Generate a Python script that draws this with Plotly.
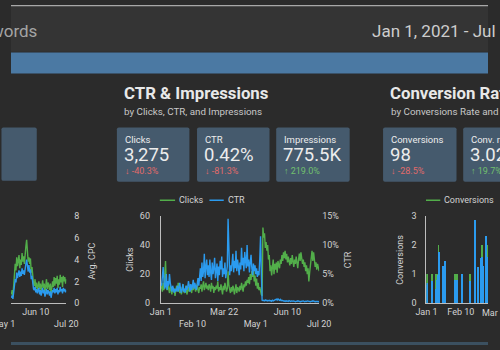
import plotly.graph_objects as go
import pandas as pd

W, H = 500, 350

# ---------------- data ----------------
days = pd.date_range("2021-01-01", "2021-07-20", freq="D")
clicks = [
    10, 12, 8, 14, 9, 18, 29, 12, 9, 13,
    10, 7, 12, 9, 6, 11, 8, 10, 5, 9,
    12, 8, 14, 10, 7, 11, 6, 9, 13, 8,
    7, 10, 12, 6, 9, 11, 8, 13, 10, 7,
    12, 9, 14, 11, 8, 10, 13, 9, 7, 11,
    10, 13, 8, 12, 15, 9, 11, 14, 10, 12,
    9, 13, 11, 8, 14, 10, 12, 7, 11, 9,
    12, 10, 15, 8, 11, 9, 13, 10, 6, 12,
    9, 14, 11, 8, 10, 22, 12, 9, 7, 11,
    8, 12, 10, 6, 9, 13, 7, 11, 10, 8,
    12, 9, 14, 10, 8, 13, 11, 15, 12, 16,
    14, 18, 13, 20, 16, 22, 18, 25, 15, 19,
    12, 17, 10, 14, 9, 11, 8, 6,
    5, 52, 45, 48, 38, 42, 36, 40, 30, 33,
    22, 26, 19, 24, 30, 20, 27, 23, 28, 21,
    29, 26, 24, 30, 27, 33, 29, 35, 31, 36,
    30, 34, 28, 32, 29, 26, 31, 27, 33, 29,
    25, 30, 27, 32, 28, 24, 30, 34, 29, 35,
    31, 27, 30, 25, 28, 22, 26, 20, 24, 15,
    21, 27, 33, 36, 29, 35, 30, 25, 28, 23,
    27, 25, 22,
]
ctr_pct = [
    3.5, 3.0, 4.5, 6.2, 4.0, 2.5, 3.0, 5.0, 2.3, 3.8,
    3.0, 5.0, 3.5, 2.5, 2.0, 3.0, 2.3, 1.8, 2.5, 2.0,
    2.3, 3.0, 2.0, 2.8, 3.5, 2.3, 1.8, 2.5, 3.3, 2.0,
    2.5, 1.8, 3.0, 2.3, 2.8, 3.8, 2.5, 2.0, 3.3, 2.3,
    3.0, 4.0, 2.5, 3.5, 2.8, 2.3, 3.3, 4.3, 3.0, 5.0,
    6.0, 3.8, 7.0, 4.5, 5.5, 8.5, 4.3, 6.3, 7.5, 4.8,
    6.5, 4.5, 7.5, 5.3, 4.0, 7.0, 5.0, 6.0, 7.8, 4.3,
    5.5, 6.8, 3.8, 6.3, 4.8, 7.3, 5.8, 8.0, 4.5, 6.0,
    5.0, 7.0, 4.3, 5.5, 6.3, 14.5, 7.5, 4.8, 6.5, 5.5,
    6.8, 8.5, 5.3, 7.3, 6.0, 9.0, 5.5, 7.5, 6.3, 4.8,
    7.0, 5.8, 9.5, 6.5, 7.8, 5.5, 8.8, 6.8, 6.0, 10.0,
    6.3, 7.5, 5.3, 7.0, 8.3, 6.0, 4.8, 6.8, 5.5, 6.5,
    5.0, 6.0, 4.5, 5.5, 4.8, 7.5, 11.5, 5.3,
    0.5, 0.45, 0.5, 0.4, 0.55, 0.45, 0.5, 0.4, 0.45, 0.5,
    0.4, 0.45, 0.35, 0.5, 0.4, 0.45, 0.55, 0.6, 0.7, 0.55,
    0.75, 0.6, 0.5, 0.65, 0.45, 0.5, 0.4, 0.45, 0.35, 0.4,
    0.3, 0.4, 0.35, 0.3, 0.45, 0.35, 0.3, 0.4, 0.3, 0.35,
    0.4, 0.3, 0.25, 0.35, 0.3, 0.4, 0.3, 0.35, 0.25, 0.3,
    0.35, 0.3, 0.4, 0.3, 0.25, 0.35, 0.3, 0.4, 0.35, 0.3,
    0.3, 0.25, 0.35, 0.3, 0.4, 0.3, 0.35, 0.25, 0.3, 0.35,
    0.3, 0.25, 0.3,
]

cpc_days = pd.date_range("2021-05-09", "2021-07-20", freq="D")
cost_series = [
    0.8, 1.2, 0.6, 1.5, 2.8, 3.6, 3.0, 4.2, 3.4, 3.9,
    4.4, 3.2, 4.0, 3.5, 4.6, 3.8, 4.3, 3.6, 4.8, 5.2,
    5.8, 4.5, 3.8, 4.2, 3.6, 4.1, 2.8, 3.3, 2.2, 1.8,
    1.6, 2.2, 1.4, 1.9, 1.2, 1.7, 2.0, 1.3, 1.8, 1.1,
    1.6, 2.1, 1.4, 1.8, 1.0, 1.5, 2.2, 1.3, 1.9, 1.6,
    1.2, 1.8, 0.9, 1.4, 2.0, 1.5, 2.4, 1.6, 2.3, 1.8,
    2.5, 1.4, 2.2, 1.7, 2.6, 1.9, 2.4, 1.5, 2.5, 2.0,
    2.4, 1.8, 2.2,
]
avg_cpc = [
    0.5, 0.7, 0.4, 0.9, 1.6, 2.2, 1.9, 2.8, 2.3, 2.6,
    3.0, 2.4, 2.9, 2.5, 3.2, 2.7, 3.0, 2.6, 3.3, 3.6,
    4.0, 3.4, 2.9, 3.5, 2.8, 3.1, 2.2, 2.5, 1.6, 1.3,
    1.2, 1.5, 1.0, 1.3, 0.9, 1.2, 1.4, 0.8, 1.2, 0.7,
    1.1, 1.4, 0.9, 1.2, 0.6, 1.0, 1.3, 0.8, 1.2, 1.0,
    0.7, 1.1, 0.5, 0.9, 1.2, 1.0, 1.4, 0.9, 1.3, 1.0,
    1.4, 0.8, 1.2, 1.0, 1.5, 1.1, 1.3, 0.9, 1.4, 1.1,
    1.3, 1.0, 1.2,
]

conv_days = pd.date_range("2021-01-01", "2021-03-13", freq="D")
conversions = [
    1, 1, 0, 0, 0, 0, 1, 0, 0, 0,
    0, 1, 1, 1, 2, 1, 0, 0, 0, 1,
    0, 0, 1, 0, 0, 0, 0, 0, 0, 0,
    0, 0, 0, 1, 0, 0, 1, 0, 0, 0,
    0, 1, 0, 0, 0, 0, 0, 0, 0, 0,
    0, 1, 0, 0, 0, 0, 0, 1, 0, 0,
    1, 0, 0, 0, 1, 2, 1, 0, 0, 1,
    1, 2,
]
conv_rate = [
    3.2, 3.5, 0, 0, 0, 0, 3.8, 0, 0, 0,
    0, 2.5, 4.0, 4.8, 7.5, 8.8, 0, 0, 0, 6.5,
    0, 0, 7.3, 0, 0, 0, 0, 0, 0, 0,
    0, 0, 0, 4.0, 0, 0, 4.0, 0, 0, 0,
    0, 5.0, 0, 0, 0, 0, 0, 0, 0, 0,
    0, 3.8, 0, 0, 0, 0, 0, 14.3, 0, 0,
    6.3, 0, 0, 0, 7.8, 8.0, 6.5, 0, 0, 11.5,
    9.0, 8.0,
]

kpi_labels = ["Clicks", "CTR", "Impressions", "Conversions", "Conv. rate"]
kpi_values = ["3,275", "0.42%", "775.5K", "98", "3.02%"]
kpi_deltas = ["-40.3%", "-81.3%", "219.0%", "-28.5%", "19.7%"]
kpi_up = [False, False, True, False, True]

tick_dates = ["2021-01-01", "2021-02-10", "2021-03-22", "2021-05-01", "2021-06-10", "2021-07-20"]
tick_text = ["Jan 1", "<br>Feb 10", "Mar 22", "<br>May 1", "Jun 10", "<br>Jul 20"]
ctr_ticks = [0, 5, 10, 15]
ctr_tick_text = ["0%", "5%", "10%", "15%"]

# ---------------- style ----------------
FONT = "Roboto"
GREEN = "#52ae4a"
BLUE = "#2b9bef"
CARD = "#455a6d"
TXT = "#d2d2d2"
AXLINE = "#bdbdbd"


def fx(x):
    return x / W


def fy(y):
    return 1 - y / H


def P(x, y):
    return f"{fx(x):.5f},{fy(y):.5f}"


def rrect(x0, y0, x1, y1, r, color):
    path = (f"M{P(x0 + r, y0)} L{P(x1 - r, y0)} Q{P(x1, y0)} {P(x1, y0 + r)} "
            f"L{P(x1, y1 - r)} Q{P(x1, y1)} {P(x1 - r, y1)} L{P(x0 + r, y1)} "
            f"Q{P(x0, y1)} {P(x0, y1 - r)} L{P(x0, y0 + r)} Q{P(x0, y0)} {P(x0 + r, y0)} Z")
    return dict(type="path", xref="paper", yref="paper", path=path,
                fillcolor=color, line=dict(width=0), layer="below")


def rect(x0, y0, x1, y1, color):
    return dict(type="rect", xref="paper", yref="paper", x0=fx(x0), x1=fx(x1),
                y0=fy(y1), y1=fy(y0), fillcolor=color, line=dict(width=0), layer="below")


def hline(x0, x1, y, color, w=1.5):
    return dict(type="line", xref="paper", yref="paper", x0=fx(x0), x1=fx(x1),
                y0=fy(y), y1=fy(y), line=dict(color=color, width=w))


def text(x, y, s, size, color, anchor="left", angle=0, weight="normal"):
    return dict(x=fx(x), y=fy(y), xref="paper", yref="paper", text=s, showarrow=False,
                xanchor=anchor, yanchor="middle", textangle=angle, borderpad=0,
                font=dict(family=FONT, size=size, color=color, weight=weight))


fig = go.Figure()

# middle chart
fig.add_trace(go.Scatter(x=days, y=clicks, name="Clicks", xaxis="x", yaxis="y",
                         mode="lines", line=dict(color=GREEN, width=1.4)))
fig.add_trace(go.Scatter(x=days, y=ctr_pct, name="CTR", xaxis="x", yaxis="y2",
                         mode="lines", line=dict(color=BLUE, width=1.4)))
# left (cropped) chart
fig.add_trace(go.Scatter(x=cpc_days, y=cost_series, name="Cost", xaxis="x2", yaxis="y3",
                         mode="lines", line=dict(color=GREEN, width=1.4)))
fig.add_trace(go.Scatter(x=cpc_days, y=avg_cpc, name="Avg. CPC", xaxis="x2", yaxis="y3",
                         mode="lines", line=dict(color=BLUE, width=1.4)))
# right (cropped) chart
DAY_MS = 86400000
fig.add_trace(go.Bar(x=conv_days, y=conversions, name="Conversions", xaxis="x3", yaxis="y4",
                     marker=dict(color=GREEN, line=dict(width=0)), offset=0, width=DAY_MS))
fig.add_trace(go.Bar(x=conv_days, y=conv_rate, name="Conv. rate", xaxis="x3", yaxis="y5",
                     marker=dict(color=BLUE, line=dict(width=0)), offset=0, width=DAY_MS))

tickfont = dict(family=FONT, size=9, color=TXT)
ydom = [fy(307), fy(217)]
common = dict(showgrid=False, zeroline=False, tickfont=tickfont, ticks="", fixedrange=True)

shapes = [
    rect(0, 0, 500, 48, "#343434"),
    rect(0, 0, 500, 1.2, "#a8a8a8"),
    rect(0, 49, 500, 70.5, "#4b79a3"),
    rect(0, 347, 500, 350, "#3b5060"),
    rrect(-10, 126, 27, 181, 2, CARD),
]
card_x = [(111, 187), (195, 271), (278, 355), (390, 467), (474, 552)]
annotations = []
for (x0, x1), lab, val, dl, up in zip(card_x, kpi_labels, kpi_values, kpi_deltas, kpi_up):
    shapes.append(rrect(x0, 126, x1, 182, 2, CARD))
    annotations.append(text(x0 + 7, 138, lab, 9.5, "#ececec"))
    annotations.append(text(x0 + 6.3, 154.8, val, 18.5, "#ececec"))
    arrow = "\u2191" if up else "\u2193"
    annotations.append(text(x0 + 7.5, 171.2, f"{arrow} {dl}", 9, "#72c06d" if up else "#e06a6a"))

# legends (drawn)
shapes += [
    hline(156, 172, 201, GREEN),
    hline(208, 223, 201, BLUE),
    hline(435, 450, 201, GREEN),
]
annotations += [
    text(175, 201, "Clicks", 9, TXT),
    text(226, 201, "CTR", 9, TXT),
    text(453, 201, "Conversions", 9, TXT),
    # titles
    text(28, 27, "Google Ads Keywords", 17, "#a4a4a4", anchor="right"),
    text(377, 27, "Jan 1, 2021 - Jul 20, 2021", 17, "#cdcdcd"),
    text(117, 91, "CTR & Impressions", 16.8, "#e8e8e8", weight="bold"),
    text(117.5, 109.5, "by Clicks, CTR, and Impressions", 9.8, "#c8c8c8"),
    text(396.5, 91, "Conversion Rate & Conversions", 16.8, "#e8e8e8", weight="bold"),
    text(397, 109.5, "by Conversions Rate and Conversions", 9.8, "#c8c8c8"),
    # axis titles
    text(124, 262, "Clicks", 9, TXT, anchor="center", angle=-90),
    text(353, 262, "CTR", 9, TXT, anchor="center", angle=-90),
    text(85, 264, "Avg. CPC", 9, TXT, anchor="center", angle=-90),
    text(407, 262, "Conversions", 9, TXT, anchor="center", angle=-90),
    # tick labels of the cropped charts lying outside the window
    text(5, 328, "May 1", 9, TXT, anchor="right"),
    text(508, 317, "Mar 22", 9, TXT, anchor="center"),
]

fig.update_layout(
    width=W, height=H, autosize=False,
    margin=dict(l=0, r=0, t=0, b=0, pad=0),
    paper_bgcolor="#2b2b2b", plot_bgcolor="rgba(0,0,0,0)",
    showlegend=False, barmode="overlay", bargap=0,
    font=dict(family=FONT),
    xaxis=dict(domain=[fx(157), fx(323)], anchor="y", type="date",
               range=["2021-01-01", "2021-07-20"], tickmode="array",
               tickvals=tick_dates, ticktext=tick_text,
               showline=True, linecolor=AXLINE, linewidth=1, **common),
    yaxis=dict(domain=ydom, anchor="x", range=[0, 60], tickvals=[0, 20, 40, 60],
               showline=True, linecolor=AXLINE, linewidth=1, ticklabelstandoff=8, **common),
    yaxis2=dict(overlaying="y", anchor="x", side="right", range=[0, 15],
                tickmode="array", tickvals=ctr_ticks, ticktext=ctr_tick_text, showline=False,
                ticklabelstandoff=2, **common),
    xaxis2=dict(domain=[0, fx(58)], anchor="y3", type="date",
                range=["2021-05-08 12:00", "2021-07-20"], tickmode="array",
                tickvals=tick_dates, ticktext=tick_text,
                showline=True, linecolor=AXLINE, linewidth=1, **common),
    yaxis3=dict(domain=ydom, anchor="x2", side="right", range=[0, 8],
                tickvals=[0, 2, 4, 6, 8], showline=False, ticklabelstandoff=7, **common),
    xaxis3=dict(domain=[fx(435.5), 1], anchor="y4", type="date",
                range=["2021-01-01", "2021-03-13 16:00"], tickmode="array",
                tickvals=["2021-01-01", "2021-02-10"],
                ticktext=["Jan 1", "Feb 10"],
                showline=True, linecolor=AXLINE, linewidth=1, **common),
    yaxis4=dict(domain=ydom, anchor="x3", range=[0, 3], tickvals=[0, 1, 2, 3],
                showline=True, linecolor=AXLINE, linewidth=1, ticklabelstandoff=7, **common),
    yaxis5=dict(overlaying="y4", anchor="x3", range=[0, 15], visible=False, fixedrange=True),
    shapes=shapes,
    annotations=annotations,
)

fig.write_html("out.html")
